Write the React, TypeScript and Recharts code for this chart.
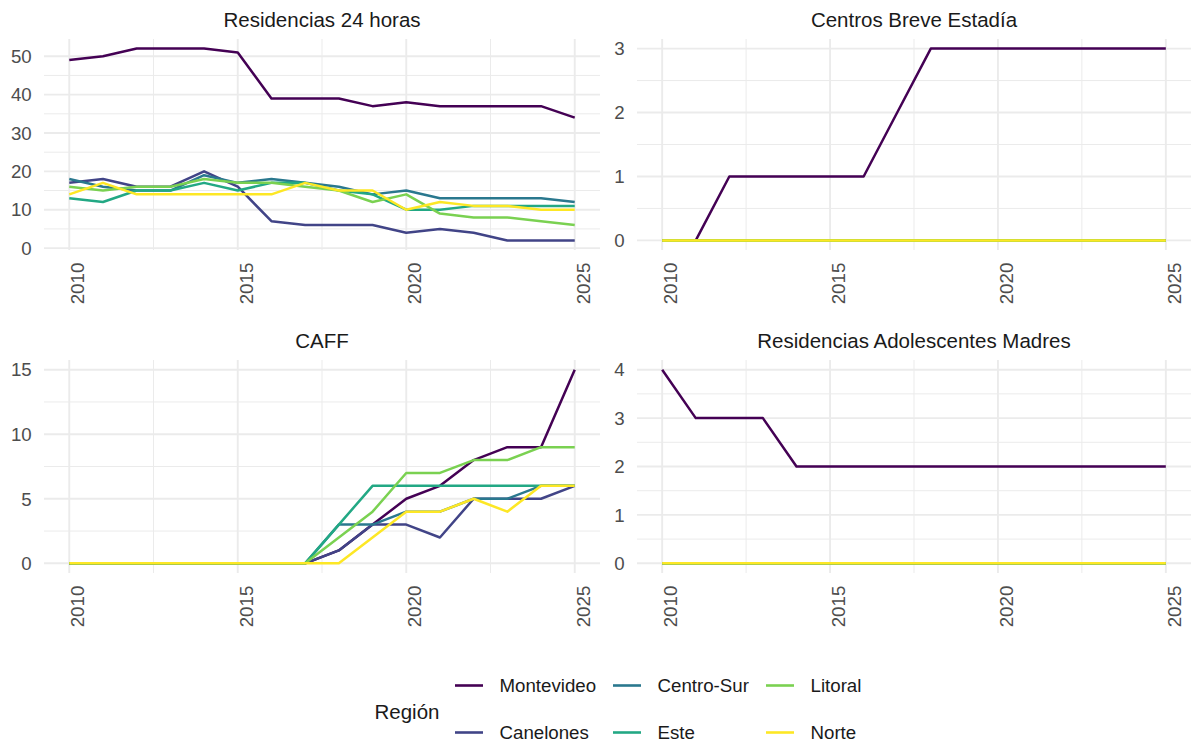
import { LineChart, Line, XAxis, YAxis, CartesianGrid } from 'recharts';

const years = [2010, 2011, 2012, 2013, 2014, 2015, 2016, 2017, 2018, 2019, 2020, 2021, 2022, 2023, 2024, 2025];
const regions = ['Montevideo', 'Canelones', 'Centro-Sur', 'Este', 'Litoral', 'Norte'];
const regionColors = ['#440154', '#414487', '#2A788E', '#22A884', '#7AD151', '#FDE725'];
const xTicks = [2010, 2015, 2020, 2025];
const xMinor = [2012.5, 2017.5, 2022.5];

// Residencias 24 horas
const res24Montevideo = [49, 50, 52, 52, 52, 51, 39, 39, 39, 37, 38, 37, 37, 37, 37, 34];
const res24Canelones = [17, 18, 16, 16, 20, 16, 7, 6, 6, 6, 4, 5, 4, 2, 2, 2];
const res24CentroSur = [18, 16, 15, 15, 19, 17, 18, 17, 16, 14, 15, 13, 13, 13, 13, 12];
const res24Este = [13, 12, 15, 15, 17, 15, 17, 17, 15, 14, 10, 10, 11, 11, 11, 11];
const res24Litoral = [16, 15, 16, 16, 18, 17, 17, 16, 15, 12, 14, 9, 8, 8, 7, 6];
const res24Norte = [14, 17, 14, 14, 14, 14, 14, 17, 15, 15, 10, 12, 11, 11, 10, 10];

// Centros Breve Estadía
const breveMontevideo = [0, 0, 1, 1, 1, 1, 1, 2, 3, 3, 3, 3, 3, 3, 3, 3];
const breveCanelones = [0, 0, 0, 0, 0, 0, 0, 0, 0, 0, 0, 0, 0, 0, 0, 0];
const breveCentroSur = [0, 0, 0, 0, 0, 0, 0, 0, 0, 0, 0, 0, 0, 0, 0, 0];
const breveEste = [0, 0, 0, 0, 0, 0, 0, 0, 0, 0, 0, 0, 0, 0, 0, 0];
const breveLitoral = [0, 0, 0, 0, 0, 0, 0, 0, 0, 0, 0, 0, 0, 0, 0, 0];
const breveNorte = [0, 0, 0, 0, 0, 0, 0, 0, 0, 0, 0, 0, 0, 0, 0, 0];

// CAFF
const caffMontevideo = [0, 0, 0, 0, 0, 0, 0, 0, 1, 3, 5, 6, 8, 9, 9, 15];
const caffCanelones = [0, 0, 0, 0, 0, 0, 0, 0, 1, 3, 3, 2, 5, 5, 5, 6];
const caffCentroSur = [0, 0, 0, 0, 0, 0, 0, 0, 3, 3, 4, 4, 5, 5, 6, 6];
const caffEste = [0, 0, 0, 0, 0, 0, 0, 0, 3, 6, 6, 6, 6, 6, 6, 6];
const caffLitoral = [0, 0, 0, 0, 0, 0, 0, 0, 2, 4, 7, 7, 8, 8, 9, 9];
const caffNorte = [0, 0, 0, 0, 0, 0, 0, 0, 0, 2, 4, 4, 5, 4, 6, 6];

// Residencias Adolescentes Madres
const madresMontevideo = [4, 3, 3, 3, 2, 2, 2, 2, 2, 2, 2, 2, 2, 2, 2, 2];
const madresCanelones = [0, 0, 0, 0, 0, 0, 0, 0, 0, 0, 0, 0, 0, 0, 0, 0];
const madresCentroSur = [0, 0, 0, 0, 0, 0, 0, 0, 0, 0, 0, 0, 0, 0, 0, 0];
const madresEste = [0, 0, 0, 0, 0, 0, 0, 0, 0, 0, 0, 0, 0, 0, 0, 0];
const madresLitoral = [0, 0, 0, 0, 0, 0, 0, 0, 0, 0, 0, 0, 0, 0, 0, 0];
const madresNorte = [0, 0, 0, 0, 0, 0, 0, 0, 0, 0, 0, 0, 0, 0, 0, 0];

const FONT = '"Liberation Sans", Arial, sans-serif';

function buildRows(series: number[][]) {
  return years.map((year, i) => {
    const row: any = { year };
    regions.forEach((r, k) => { row[r] = series[k][i]; });
    return row;
  });
}

const XTick = (props: any) => {
  const { x, y, payload } = props;
  return (
    <g transform={`translate(${x},${y + 12.7}) rotate(-90)`}>
      <text x={0} y={15} textAnchor="end" fill="#4D4D4D" fontSize={18.7} fontFamily={FONT}>
        {payload.value}
      </text>
    </g>
  );
};

const YTick = (props: any) => {
  const { x, y, payload } = props;
  return (
    <text x={x - 12.3} y={y} dy="0.36em" textAnchor="end" fill="#4D4D4D" fontSize={18.7} fontFamily={FONT}>
      {payload.value}
    </text>
  );
};

type PanelProps = {
  rows: any[],
  left: number,
  top: number,
  width: number,
  plotHeight: number,
  yWidth: number,
  yDomain: number[],
  yTicks: number[],
  yMinor: number[],
};

const Panel = ({ rows, left, top, width, plotHeight, yWidth, yDomain, yTicks, yMinor }: PanelProps) => (
  <div style={{ position: 'absolute', left, top }}>
    <LineChart width={width} height={plotHeight + 60} data={rows} margin={{ top: 0, right: 0, bottom: 0, left: 0 }}>
      <CartesianGrid stroke="#EBEBEB" strokeWidth={1} horizontalValues={yMinor} verticalValues={xMinor} />
      <CartesianGrid stroke="#EBEBEB" strokeWidth={1.9} horizontalValues={yTicks} verticalValues={xTicks} />
      <XAxis
        dataKey="year"
        type="number"
        domain={[2009.25, 2025.75]}
        ticks={xTicks}
        height={60}
        axisLine={false}
        tickLine={false}
        tickSize={0}
        tickMargin={0}
        tick={XTick}
        interval={0}
      />
      <YAxis
        type="number"
        domain={yDomain}
        ticks={yTicks}
        width={yWidth}
        axisLine={false}
        tickLine={false}
        tickSize={0}
        tickMargin={0}
        tick={YTick}
        interval={0}
        allowDataOverflow
      />
      {regions.map((r, k) => (
        <Line
          key={r}
          type="linear"
          dataKey={r}
          stroke={regionColors[k]}
          strokeWidth={2.5}
          strokeLinejoin="round"
          dot={false}
          activeDot={false}
          isAnimationActive={false}
        />
      ))}
    </LineChart>
  </div>
);

const legendCols = [455, 613, 766];
const legendRows = [685.5, 732.5];

const App = () => {
  const res24Rows = buildRows([res24Montevideo, res24Canelones, res24CentroSur, res24Este, res24Litoral, res24Norte]);
  const breveRows = buildRows([breveMontevideo, breveCanelones, breveCentroSur, breveEste, breveLitoral, breveNorte]);
  const caffRows = buildRows([caffMontevideo, caffCanelones, caffCentroSur, caffEste, caffLitoral, caffNorte]);
  const madresRows = buildRows([madresMontevideo, madresCanelones, madresCentroSur, madresEste, madresLitoral, madresNorte]);

  return (
    <div style={{ position: 'relative', width: 1191, height: 742, background: '#fff', overflow: 'hidden', fontFamily: FONT }}>
      <style>{'body{margin:0}'}</style>
      <svg width={1191} height={742} style={{ position: 'absolute', left: 0, top: 0 }}>
        <g fontFamily={FONT} fontSize={20.5} fill="#1A1A1A" textAnchor="middle">
          <text x={322} y={26.7}>Residencias 24 horas</text>
          <text x={914} y={26.7}>Centros Breve Estadía</text>
          <text x={322} y={348}>CAFF</text>
          <text x={914} y={348}>Residencias Adolescentes Madres</text>
        </g>
        <text x={374.5} y={712} dy="0.36em" fontFamily={FONT} fontSize={20.5} fill="#1A1A1A">Región</text>
        {regions.map((r, k) => {
          const col = Math.floor(k / 2);
          const row = k % 2;
          const lx = legendCols[col];
          const ly = legendRows[row];
          return (
            <g key={r}>
              <line x1={lx} x2={lx + 28} y1={ly} y2={ly} stroke={regionColors[k]} strokeWidth={2.6} />
              <text x={lx + 44.5} y={ly} dy="0.36em" fontFamily={FONT} fontSize={18.7} fill="#1A1A1A">{r}</text>
            </g>
          );
        })}
      </svg>
      <Panel rows={res24Rows} left={0} top={39} width={600} plotHeight={211} yWidth={44}
        yDomain={[-0.5, 54.5]} yTicks={[0, 10, 20, 30, 40, 50]} yMinor={[5, 15, 25, 35, 45]} />
      <Panel rows={breveRows} left={600} top={39} width={591} plotHeight={211} yWidth={37}
        yDomain={[-0.15, 3.15]} yTicks={[0, 1, 2, 3]} yMinor={[0.5, 1.5, 2.5]} />
      <Panel rows={caffRows} left={0} top={360} width={600} plotHeight={213} yWidth={44}
        yDomain={[-0.75, 15.75]} yTicks={[0, 5, 10, 15]} yMinor={[2.5, 7.5, 12.5]} />
      <Panel rows={madresRows} left={600} top={360} width={591} plotHeight={213} yWidth={37}
        yDomain={[-0.2, 4.2]} yTicks={[0, 1, 2, 3, 4]} yMinor={[0.5, 1.5, 2.5, 3.5]} />
    </div>
  );
};

export default App;
